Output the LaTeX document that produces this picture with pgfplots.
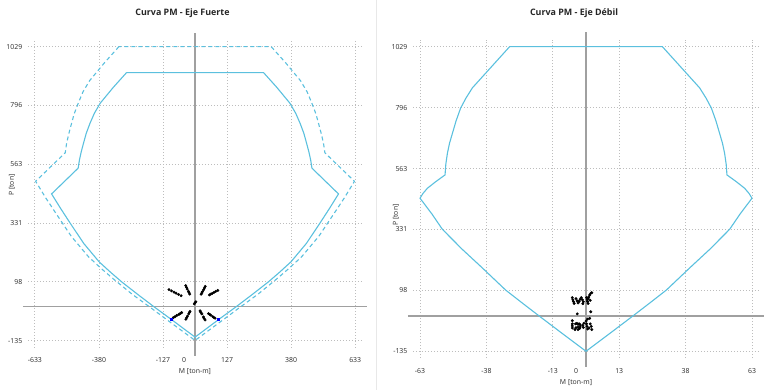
\documentclass[border=0pt]{standalone}
\usepackage{fontspec}
\setmainfont{Open Sans}
\usepackage{pgfplots}
\pgfplotsset{compat=1.18}

\definecolor{pm}{HTML}{5BC0DE}
\definecolor{zl}{HTML}{A0A0A0}
\definecolor{gridc}{HTML}{BDBDBD}
\definecolor{tl}{HTML}{2A2A2A}

\pgfplotsset{pmstyle/.style={
  scale only axis, clip=false,
  axis line style={draw=none}, major tick length=0pt,
  grid=major, grid style={gridc, line width=0.9pt, dash pattern=on 0.9pt off 2.1pt},
  tick label style={font=\fontsize{6.9}{8}\selectfont, text=tl},
  yticklabel style={anchor=east, xshift=-2pt},
  ytick={-135,98,331,563,796,1029},
  yticklabels={-135,98,331,563,796,1029},
  extra x ticks={0}, extra x tick labels={0},
}}

\begin{document}
\begin{tikzpicture}
\useasboundingbox (0,0) rectangle (768pt,390pt);
\draw[gray!18, line width=0.8pt] (376.5pt,0) -- (376.5pt,390pt);

\node[font=\bfseries\fontsize{8.9}{10}\selectfont, text=black!85] at (182.5pt,377pt) {Curva PM - Eje Fuerte};
\node[font=\bfseries\fontsize{8.9}{10}\selectfont, text=black!85] at (574pt,377pt) {Curva PM - Eje Débil};
\node[font=\fontsize{6.9}{8}\selectfont, text=tl] at (195pt,18pt) {M [ton-m]};
\node[font=\fontsize{6.9}{8}\selectfont, text=tl] at (576pt,7pt) {M [ton-m]};
\node[font=\fontsize{6.9}{8}\selectfont, text=tl, rotate=90] at (12pt,205pt) {P [ton]};
\node[font=\fontsize{6.9}{8}\selectfont, text=tl, rotate=90] at (396pt,175pt) {P [ton]};

% ---------------- Eje Fuerte ----------------
\begin{axis}[pmstyle,
  at={(27.8pt,42pt)}, anchor=south west,
  width=334.5pt, height=307.9pt,
  xmin=-661, xmax=661, ymin=-164, ymax=1055,
  xtick={-633,-379.8,-126.6,126.6,379.8,633},
  xticklabels={-633,-380,-127,127,380,633},
  xticklabel style={anchor=base, yshift=-14.7pt},
  extra x tick style={grid=none, xticklabel style={xshift=-11pt}},
]
\draw[zl, line width=1.2pt] (axis cs:-680,0) -- (axis cs:680,0);
\draw[zl, line width=1.2pt] (axis cs:0,-194) -- (axis cs:0,1084);

\addplot[pm, line width=1.1pt, dash pattern=on 4pt off 3pt] coordinates {
(-301,1029) (-359,964) (-417,894) (-443,850) (-461,807) (-478,762) (-490,718) (-500,680) (-508,644) (-513,609)
(-630,496) (-590,430) (-549,368) (-489,278) (-421,197) (-370,150) (-321,108) (-250,50) (-180,-1) (-106,-56) (0,-134)
(106,-56) (180,-1) (250,50) (321,108) (370,150) (421,197) (489,278) (549,368) (590,430) (630,496)
(513,609) (508,644) (500,680) (490,718) (478,762) (461,807) (443,850) (417,894) (359,964) (301,1029) (-301,1029)
};
\addplot[pm, line width=1.1pt] coordinates {
(-271,926) (-323,868) (-375,805) (-398,765) (-415,726) (-430,686) (-441,646) (-450,612) (-457,580) (-462,548)
(-567,446) (-531,388) (-494,331) (-440,250) (-379,177) (-333,135) (-289,97) (-225,47) (-162,-1) (-95,-50) (0,-121)
(95,-50) (162,-1) (225,47) (289,97) (333,135) (379,177) (440,250) (494,331) (531,388) (567,446)
(462,548) (457,580) (450,612) (441,646) (430,686) (415,726) (398,765) (375,805) (323,868) (271,926) (-271,926)
};
\addplot[only marks, mark=*, mark size=1.25pt, black] coordinates {
(-103,67) (-93,62) (-83,57) (-75,53) (-65,48) (-55,43)
(-37,83) (-34,76) (-31,69) (-26,60) (-24,55) (-21,49)
(40,80) (37,74) (34,67) (29,59) (27,54) (24,49)
(90,64) (82,60) (75,56) (68,52) (62,49) (57,46)
(-3,11) (0,15) (3,19)
(-86,-44) (-79,-40) (-72,-35) (-64,-31) (-58,-27) (-53,-24)
(-36,-50) (-33,-44) (-30,-38) (-25,-29) (-22,-23) (-20,-19)
(20,-17) (23,-23) (27,-29) (33,-41) (36,-47) (40,-53)
(53,-28) (58,-31) (62,-34) (70,-40) (74,-43) (79,-46)
};
\addplot[only marks, mark=square*, mark size=1.3pt, blue] coordinates {(-95,-50) (92,-50)};
\end{axis}

% ---------------- Eje Debil ----------------
\begin{axis}[pmstyle,
  at={(412.9pt,31.9pt)}, anchor=south west,
  width=346.2pt, height=318.2pt,
  xmin=-65.7, xmax=65.7, ymin=-161, ymax=1055,
  xtick={-63,-37.8,-12.6,12.6,37.8,63},
  xticklabels={-63,-38,-13,13,38,63},
  xticklabel style={anchor=base, yshift=-15.8pt},
  extra x tick style={grid=none, xticklabel style={xshift=-10pt}},
]
\draw[zl, line width=1.2pt] (axis cs:-67.6,0) -- (axis cs:67.6,0);
\draw[zl, line width=1.2pt] (axis cs:0,-195) -- (axis cs:0,1085);

\addplot[pm, line width=1.1pt] coordinates {
(-29,1029) (-43.1,872) (-45.6,832) (-47.6,794) (-49.3,746) (-50.7,698) (-51.8,660) (-52.6,622) (-53.2,580) (-53.5,539)
(-57.2,512) (-60.2,488) (-61.9,468) (-63,450) (-58.5,390) (-54.5,331) (-47,255) (-39.5,185) (-30.5,99)
(-24,48) (-17.8,0) (-9,-67) (0,-135)
(9,-67) (17.8,0) (24,48) (30.5,99) (39.5,185) (47,255) (54.5,331) (58.5,390)
(63,450) (61.9,468) (60.2,488) (57.2,512) (53.5,539) (53.2,580) (52.6,622) (51.8,660) (50.7,698) (49.3,746) (47.6,794) (45.6,832) (43.1,872) (29,1029) (-29,1029)
};
\addplot[only marks, mark=*, mark size=1.25pt, black] coordinates {
(-5.2,70) (-5,62) (-4.8,55) (-4.5,48)
(-3.8,66) (-3.4,58) (-3,50) (-2.6,56) (-2.2,64)
(-1.8,70) (-1.4,62) (-1,54) (-1.2,47)
(0.4,62) (0.6,55) (0.8,48) (1,72) (1.4,80) (1.8,86) (2.2,89) (0.8,66) (1.6,60) (0.2,70)
(-3.3,8) (1.8,16)
(-5.2,-18) (-5.2,-30) (-5.2,-38) (-5.2,-46)
(-4,-30) (-3.5,-28) (-3,-32) (-2.6,-30) (-2.2,-34) (-3,-42) (-3.8,-45) (-2.4,-48) (-4.2,-52) (-3,-52) (-2.2,-42)
(0,-20) (0.6,-12) (1.4,-9) (0.2,-30) (0.4,-40) (0.6,-50) (1.6,-30) (2,-40) (1.2,-46) (2.2,-52) (-0.8,-28) (-1,-44) (-1.2,-36)
};
\end{axis}
\end{tikzpicture}
\end{document}
